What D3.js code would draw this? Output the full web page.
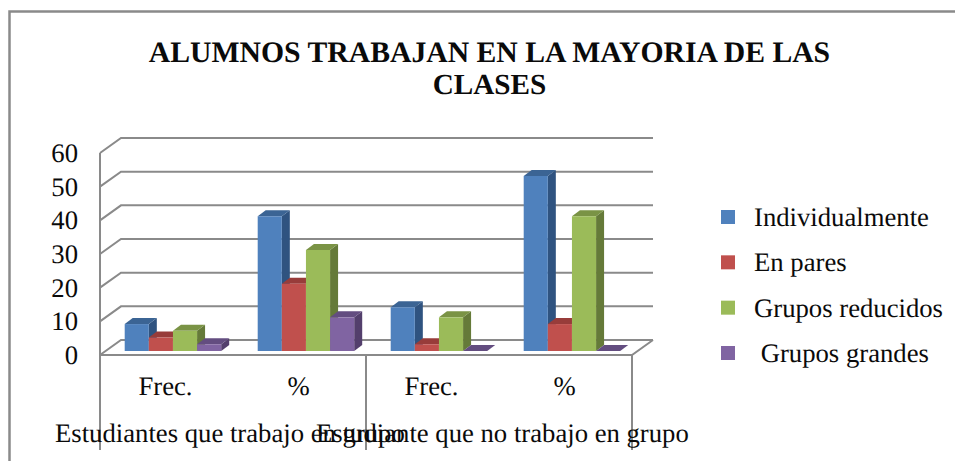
<!DOCTYPE html>
<html><head><meta charset="utf-8">
<script src="https://cdn.jsdelivr.net/npm/d3@7/dist/d3.min.js"></script>
<style>html,body{margin:0;padding:0;background:#fff}svg{display:block}text{font-family:"Liberation Serif",serif;fill:#0a0a0a;text-rendering:geometricPrecision}</style>
</head><body><svg id="c" width="955" height="461"></svg>
<script>
const titleLines = ["ALUMNOS TRABAJAN EN LA MAYORIA DE LAS", "CLASES"];
const categories = ["Frec.", "%", "Frec.", "%"];
const groupLabels = ["Estudiantes que trabajo en grupo", "Estudiante que no trabajo en grupo"];
const seriesNames = ["Individualmente", "En pares", "Grupos reducidos", " Grupos grandes"];
const individualmente = [8, 40, 13, 52];
const enPares = [4, 20, 2, 8];
const gruposReducidos = [6, 30, 10, 40];
const gruposGrandes = [2, 10, 0, 0];
const yTicks = [0, 10, 20, 30, 40, 50, 60];
const seriesValues = [individualmente, enPares, gruposReducidos, gruposGrandes];
const front = ["#4f81bd", "#c0504d", "#9bbb59", "#8064a2"];
const side = ["#2f5380", "#7f3331", "#657a39", "#533f6c"];
const topc = ["#3b6494", "#983c3a", "#7a9345", "#634d80"];
const grid = "#8a8a8a";

const svg = d3.select("#c");
const y = d3.scaleLinear().domain([0, 60]).range([355, 153]);
const x = d3.scaleBand().domain(d3.range(4)).range([100, 632]);
const sx = d3.scaleBand().domain(d3.range(4)).range([24.7, 121.2]);
const dx = 21, dy = -15;       // wall depth
const bx = 8, by = -6;         // bar depth
const barLift = -4;            // bars stand a little inside the floor

// frame
svg.append("path").attr("d", "M9.5,461V11.5H955").attr("fill", "none").attr("stroke", grid).attr("stroke-width", 2.5);

// title
svg.selectAll(".t").data(titleLines).join("text")
  .attr("x", 489.5).attr("y", (d, i) => 62 + i * 31.5)
  .attr("text-anchor", "middle").attr("font-weight", "bold").attr("font-size", (d, i) => i ? 29.2 : 29.7).text(d => d);

// walls + gridlines
const wall = svg.append("g").attr("fill", "none").attr("stroke", grid).attr("stroke-width", 2);
yTicks.forEach(t => {
  wall.append("path").attr("d", d3.line()([[100, y(t)], [100 + dx, y(t) + dy], [632 + dx, y(t) + dy]]));
});
wall.append("path").attr("d", d3.line()([[100, y(60)], [100, y(0)], [632, y(0)], [632 + dx, y(0) + dy]]));
[0, 2, 4].forEach(i => {
  const px = i === 4 ? x.range()[1] : x(i);
  wall.append("line").attr("x1", px).attr("x2", px).attr("y1", y(0)).attr("y2", 450);
});

// bars
const poly = (g, pts, fill) => g.append("polygon").attr("points", pts.map(p => p.join(",")).join(" ")).attr("fill", fill);
categories.forEach((c, ci) => {
  const g = svg.append("g");
  seriesValues.forEach((vals, si) => {
    const w = sx.bandwidth(), l = x(ci) + sx(si), r = l + w;
    const b = y(0) + barLift, t = y(vals[ci]) + barLift;
    poly(g, [[r, b], [r + bx, b + by], [r + bx, t + by], [r, t]], side[si]);
    poly(g, [[l, t], [l + bx, t + by], [r + bx, t + by], [r, t]], topc[si]);
    if (vals[ci] > 0) poly(g, [[l, t], [r, t], [r, b], [l, b]], front[si]);
  });
});

// y labels
svg.selectAll(".yl").data(yTicks).join("text")
  .attr("x", 78).attr("y", d => y(d) + 9).attr("text-anchor", "end").attr("font-size", 26.7).text(d => d);

// category labels
svg.selectAll(".cl").data(categories).join("text")
  .attr("x", (d, i) => x(i) + x.bandwidth() / 2 - 1).attr("y", 395)
  .attr("text-anchor", "middle").attr("font-size", 26.7).text(d => d);

// group labels
svg.selectAll(".gl").data(groupLabels).join("text")
  .attr("x", (d, i) => [55, 316][i]).attr("y", 442).attr("font-size", 26.7).text(d => d);

// legend
const legendY = d3.scalePoint().domain(d3.range(4)).range([217, 353]);
seriesNames.forEach((n, i) => {
  svg.append("rect").attr("x", 721).attr("y", legendY(i) - 7).attr("width", 14).attr("height", 14).attr("fill", front[i]);
  svg.append("text").attr("x", 754).attr("y", legendY(i) + 9).attr("font-size", 26.7).style("white-space", "pre").text(n);
});
</script></body></html>
